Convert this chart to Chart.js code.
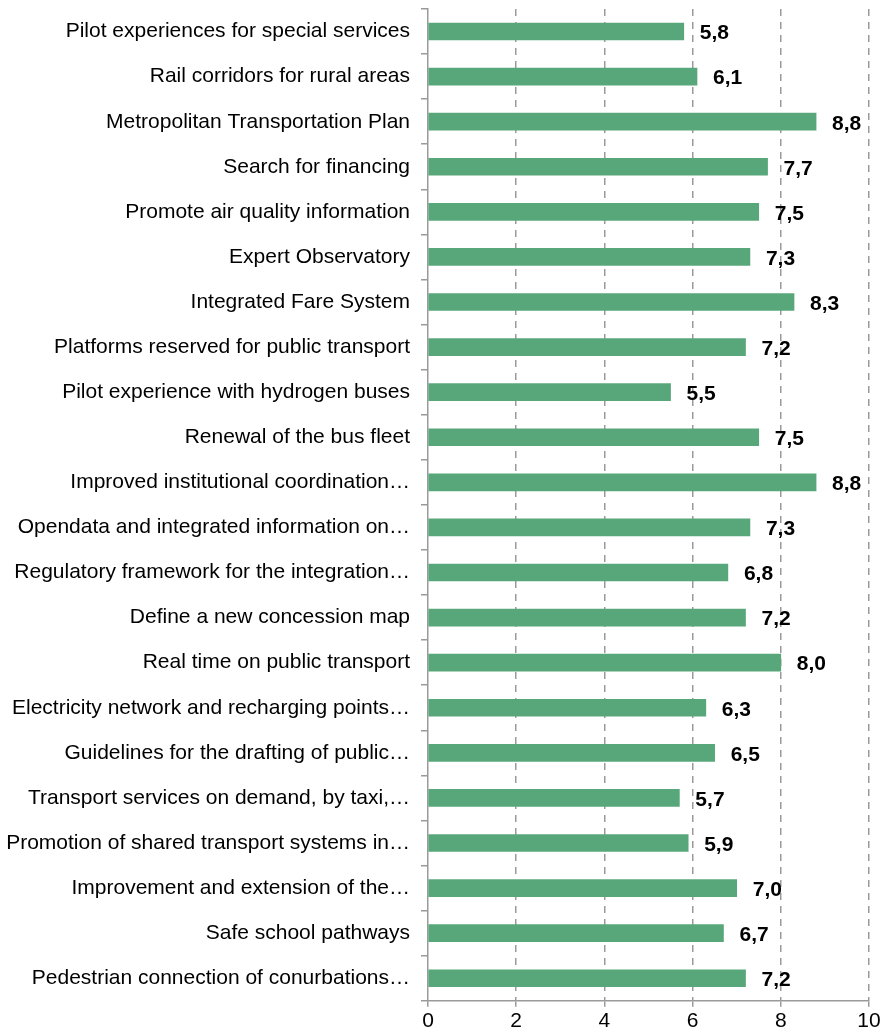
<!DOCTYPE html>
<html>
<head>
<meta charset="utf-8">
<script src="https://cdn.jsdelivr.net/npm/chart.js@4"></script>
<style>
    html, body { margin: 0; padding: 0; background: #ffffff; }
    #wrap { width: 895px; height: 1036px; }
</style>
</head>
<body>
<div id="wrap"><canvas id="chart"></canvas></div>
<script>
// categories, top to bottom
const categories = [
    'Pilot experiences for special services',
    'Rail corridors for rural areas',
    'Metropolitan Transportation Plan',
    'Search for financing',
    'Promote air quality information',
    'Expert Observatory',
    'Integrated Fare System',
    'Platforms reserved for public transport',
    'Pilot experience with hydrogen buses',
    'Renewal of the bus fleet',
    'Improved institutional coordination\u2026',
    'Opendata and integrated information on\u2026',
    'Regulatory framework for the integration\u2026',
    'Define a new concession map',
    'Real time on public transport',
    'Electricity network and recharging points\u2026',
    'Guidelines for the drafting of public\u2026',
    'Transport services on demand, by taxi,\u2026',
    'Promotion of shared transport systems in\u2026',
    'Improvement and extension of the\u2026',
    'Safe school pathways',
    'Pedestrian connection of conurbations\u2026'
];

const scores = [5.8, 6.1, 8.8, 7.7, 7.5, 7.3, 8.3, 7.2, 5.5, 7.5, 8.8,
                7.3, 6.8, 7.2, 8.0, 6.3, 6.5, 5.7, 5.9, 7.0, 6.7, 7.2];

const xTicks = [0, 2, 4, 6, 8, 10];

const FONT = 'Liberation Sans, Arial, sans-serif';
const GREY = '#9a9a9a';

// value labels right of each bar, decimal comma
const valueLabels = {
    id: 'valueLabels',
    afterDatasetsDraw(chart) {
        const ctx = chart.ctx;
        const meta = chart.getDatasetMeta(0);
        ctx.save();
        ctx.font = 'bold 21px ' + FONT;
        ctx.fillStyle = '#000000';
        ctx.textAlign = 'left';
        ctx.textBaseline = 'middle';
        meta.data.forEach((bar, i) => {
            let txt = scores[i].toFixed(1).replace('.', ',');
            ctx.fillText(txt, bar.x + 16, bar.y + 2);
        });
        ctx.restore();
    }
};

new Chart(document.getElementById('chart'), {
    type: 'bar',
    data: {
        labels: categories,
        datasets: [{
            data: scores,
            backgroundColor: '#58a77b',
            borderWidth: 0,
            barThickness: 17
        }]
    },
    options: {
        indexAxis: 'y',
        responsive: true,
        maintainAspectRatio: false,
        animation: false,
        layout: {
            padding: { top: 9, right: 26, bottom: 0, left: 0 }
        },
        plugins: {
            legend: { display: false },
            tooltip: { enabled: false }
        },
        scales: {
            x: {
                min: 0,
                max: 10,
                afterBuildTicks(scale) {
                    scale.ticks = xTicks.map(v => ({ value: v }));
                },
                grid: {
                    color: ctx => ctx.tick && ctx.tick.value === 0 ? 'rgba(0,0,0,0)' : GREY,
                    lineWidth: 1.5,
                    tickColor: GREY,
                    tickLength: 6
                },
                border: { color: GREY, width: 1.5, dash: [7, 6] },
                ticks: {
                    color: '#000000',
                    font: { family: FONT, size: 21 },
                    padding: 2,
                    maxRotation: 0
                }
            },
            y: {
                afterFit(scale) {
                    scale.width = 428;
                    scale.paddingTop = 0;
                    scale.paddingBottom = 0;
                },
                grid: {
                    offset: true,
                    drawOnChartArea: false,
                    color: GREY,
                    lineWidth: 1.5,
                    tickLength: 7
                },
                border: { color: GREY, width: 1.5 },
                ticks: {
                    color: '#000000',
                    font: { family: FONT, size: 21 },
                    padding: 11,
                    autoSkip: false
                }
            }
        }
    },
    plugins: [valueLabels]
});
</script>
</body>
</html>
